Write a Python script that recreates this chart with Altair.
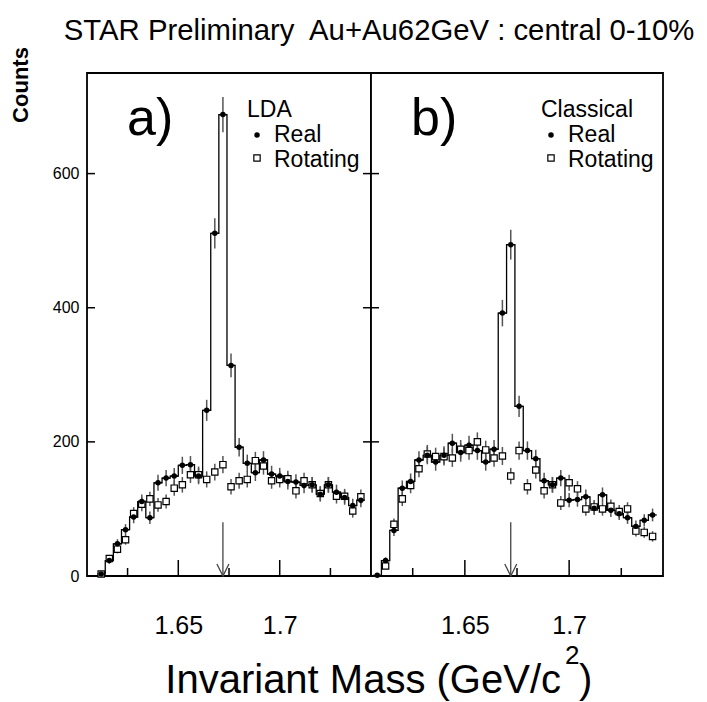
import altair as alt
import pandas as pd

# ---------------- data ----------------
mass = [1.608, 1.612, 1.616, 1.620, 1.624, 1.628, 1.632, 1.636, 1.640, 1.644,
        1.648, 1.652, 1.656, 1.660, 1.664, 1.668, 1.672, 1.676, 1.680, 1.684,
        1.688, 1.692, 1.696, 1.700, 1.704, 1.708, 1.712, 1.716, 1.720, 1.724,
        1.728, 1.732, 1.736, 1.740]

# panel a) LDA (starts at 1.612)
lda_mass = mass[1:]
lda_real = [3, 23, 48, 69, 88, 111, 87, 139, 146, 149, 165, 166, 149, 247, 511, 688,
            314, 192, 168, 154, 173, 152, 149, 141, 140, 135, 136, 122, 136, 125,
            117, 105, 113]
lda_rot = [3, 26, 40, 54, 93, 107, 115, 106, 111, 131, 136, 151, 151, 144, 155, 166,
           133, 142, 144, 172, 164, 142, 144, 145, 127, 142, 136, 123, 136, 119,
           119, 97, 118]

# panel b) Classical
cls_mass = mass
cls_real = [1, 23, 68, 131, 141, 173, 180, 170, 180, 198, 184, 195, 187, 170, 189,
            392, 494, 253, 187, 175, 142, 136, 146, 113, 114, 118, 101, 121, 98, 93,
            87, 74, 83, 91]
cls_rot = [None, 15, 77, 115, 135, 160, 182, 178, 178, 176, 189, 187, 200, 188, 176,
           179, 149, 187, 133, 158, 127, 136, 109, 139, 130, 100, 103, 100, 104, 96,
           100, 67, 65, 59]

x_major = [1.65, 1.70]
x_minor = [1.625, 1.675, 1.725]
y_ticks = [200, 400, 600]
y_labels = [0, 200, 400, 600]
omega_mass = [1.672]
arrow_top = [80]

X_DOMAIN = [1.605, 1.745]
Y_DOMAIN = [0, 750]
H = 503
FONT = "Liberation Sans"
HALF_BIN = 0.002


def text(txt, x, y, size, align="left", weight="normal", angle=0, baseline="alphabetic"):
    return alt.Chart(pd.DataFrame({"t": [txt]})).mark_text(
        align=align, baseline=baseline, fontSize=size, font=FONT,
        fontWeight=weight, angle=angle, color="black"
    ).encode(text="t:N", x=alt.value(x), y=alt.value(y))


def panel(m, real, rot, tag, name, width, show_yaxis, right_ticks, extra):
    real_df = pd.DataFrame({"mass": m, "count": real})
    rot_df = pd.DataFrame({"mass": m, "count": rot}).dropna()

    xs = alt.Scale(domain=X_DOMAIN, nice=False, zero=False)
    ys = alt.Scale(domain=Y_DOMAIN, nice=False, zero=False)
    xaxis = alt.Axis(values=x_major, format="~g", domain=False, ticks=False, grid=False,
                     labelFontSize=25, labelPadding=37, title=None, labelFont=FONT,
                     labelColor="black")
    if show_yaxis:
        yaxis = alt.Axis(values=y_labels, domain=False, ticks=False, grid=False,
                         labelFontSize=16, labelPadding=8, title=None, labelFont=FONT,
                         labelColor="black")
    else:
        yaxis = None

    def X(f="mass"):
        return alt.X(f"{f}:Q", scale=xs, axis=xaxis)

    def Y(f="count"):
        return alt.Y(f"{f}:Q", scale=ys, axis=yaxis)

    frame = alt.Chart(pd.DataFrame({"a": [0]})).mark_rect(
        fillOpacity=0, stroke="black", strokeWidth=1.8
    ).encode(x=alt.value(0), x2=alt.value(width), y=alt.value(0), y2=alt.value(H))

    step = alt.Chart(real_df).mark_line(
        interpolate="step", color="black", strokeWidth=1.3
    ).encode(x=X(), y=Y())

    tops = alt.Chart(real_df).transform_calculate(
        lo=f"datum.mass - {HALF_BIN}", hi=f"datum.mass + {HALF_BIN}"
    ).mark_rule(color="black", strokeWidth=1.3).encode(x=X("lo"), x2="hi:Q", y=Y())

    def errbars(df):
        return alt.Chart(df).transform_calculate(
            lo="datum.count - sqrt(datum.count)", hi="datum.count + sqrt(datum.count)"
        ).mark_rule(color="#555555", strokeWidth=1.5).encode(x=X(), y=Y("lo"), y2="hi:Q")

    squares = alt.Chart(rot_df).mark_square(
        size=40, fill="white", stroke="black", strokeWidth=1.2, opacity=1
    ).encode(x=X(), y=Y())

    dots = alt.Chart(real_df).mark_circle(size=30, color="black", opacity=1).encode(x=X(), y=Y())

    arrow_df = pd.DataFrame({"mass": omega_mass, "count": [0], "top": arrow_top})
    arrow = alt.Chart(arrow_df).mark_rule(color="#444444", strokeWidth=1.3).encode(
        x=X(), y=Y(), y2="top:Q")
    head = alt.Chart(arrow_df).mark_point(
        shape="M -1 -1 L 0 1 L 1 -1", size=144, filled=False, stroke="#444444",
        strokeWidth=1.3, opacity=1
    ).encode(x=X(), y=alt.value(H - 6))

    maj = alt.Chart(pd.DataFrame({"mass": x_major})).mark_rule(
        color="black", strokeWidth=1.5).encode(x=X(), y=alt.value(H), y2=alt.value(H - 16))
    mnr = alt.Chart(pd.DataFrame({"mass": x_minor})).mark_rule(
        color="black", strokeWidth=1.5).encode(x=X(), y=alt.value(H), y2=alt.value(H - 8))
    yt_df = pd.DataFrame({"count": y_ticks})
    ytl = alt.Chart(yt_df).mark_rule(color="black", strokeWidth=1.5).encode(
        y=Y(), x=alt.value(0), x2=alt.value(8))
    layers = [frame, step, tops, errbars(real_df), errbars(rot_df), squares, dots,
              arrow, head, maj, mnr, ytl]
    if right_ticks:
        layers.append(alt.Chart(yt_df).mark_rule(color="black", strokeWidth=1.5).encode(
            y=Y(), x=alt.value(width - 8), x2=alt.value(width)))

    # panel tag and legend
    layers.append(text(tag, 40, 62, 52))
    layers.append(text(name[0], name[1], 44, 23))
    lx = name[1]
    layers.append(alt.Chart(pd.DataFrame({"a": [0]})).mark_circle(
        size=30, color="black", opacity=1).encode(x=alt.value(lx + 10), y=alt.value(62)))
    layers.append(alt.Chart(pd.DataFrame({"a": [0]})).mark_square(
        size=40, fill="white", stroke="black", strokeWidth=1.2, opacity=1
    ).encode(x=alt.value(lx + 10), y=alt.value(85)))
    layers.append(text("Real", lx + 27, 69, 23))
    layers.append(text("Rotating", lx + 27, 94, 23))
    layers += extra

    return alt.layer(*layers).properties(width=width, height=H)


left_extra = [
    text("STAR Preliminary\u00a0 Au+Au62GeV : central 0-10%", 292, -33, 29.3, align="center"),
    text("Counts", -66, 12, 22, align="center", weight="bold", angle=270, baseline="middle"),
    text("Invariant Mass (GeV/c", 474, 620, 40, align="right"),
    text("2", 478, 591, 26),
    text(")", 492, 620, 40),
]

left = panel(lda_mass, lda_real, lda_rot, "a)", ("LDA", 160), 284, True, True, left_extra)
right = panel(cls_mass, cls_real, cls_rot, "b)", ("Classical", 170), 292, False, False, [])

chart = alt.hconcat(left, right, spacing=0, bounds="flush").properties(
    padding={"left": 1, "top": 8, "right": 0, "bottom": 0}
).configure_view(stroke=None).configure(
    font=FONT, background="white"
)

chart.save("out.html", embed_options={"renderer": "svg", "actions": False})
